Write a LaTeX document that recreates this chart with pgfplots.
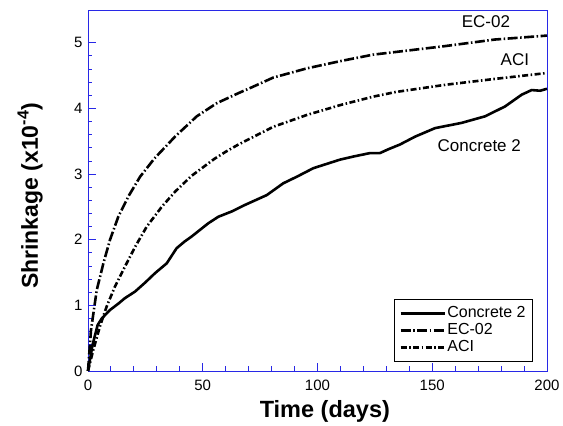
\documentclass[border=0pt]{standalone}
\usepackage{pgfplots}
\pgfplotsset{compat=1.18}
\usepackage{fontspec}
\setmainfont{Liberation Sans}
\usetikzlibrary{calc}

\definecolor{frameblue}{RGB}{40,40,230}

\pgfplotstableread{
t s
0 0
1 0.2
2 0.4
4.2 0.70
6 0.80
9.6 0.93
13 1.02
16.1 1.11
20.5 1.21
25 1.35
29.2 1.49
34.3 1.64
38.6 1.87
42 1.97
45.2 2.05
52.4 2.25
56.8 2.35
62.6 2.43
68.4 2.53
77.9 2.68
85.1 2.86
91 2.96
98.2 3.09
109.8 3.22
116 3.27
122.9 3.32
127.2 3.32
131 3.38
135.9 3.45
142.5 3.57
151.2 3.70
162.8 3.78
173.0 3.88
181.7 4.03
189.0 4.21
193.3 4.28
197 4.27
200 4.30
}\concrete

\pgfplotstableread{
t s
0 0
1.3 0.62
3.8 1.23
6.7 1.64
9.6 2.00
13.2 2.35
17.6 2.66
22.7 2.96
29 3.24
37.9 3.57
47.4 3.88
56.1 4.08
66 4.24
70.6 4.31
80.7 4.47
95.3 4.61
109.8 4.72
124.3 4.82
134 4.86
155.6 4.95
177.3 5.05
200 5.11
}\ecmodel

\pgfplotstableread{
t s
0 0
2.3 0.32
5.2 0.68
8.1 0.98
11.8 1.29
16.1 1.59
20.5 1.89
25.6 2.20
32.1 2.50
37.9 2.73
45 2.97
50 3.10
55 3.23
60 3.34
65 3.44
70 3.53
80.7 3.72
95.3 3.90
109.8 4.05
124.3 4.18
134 4.25
155.6 4.36
177.3 4.45
200 4.54
}\acimodel

\begin{document}
\begin{tikzpicture}
\begin{axis}[
  scale only axis,
  width=459pt, height=361pt,
  xmin=0, xmax=200, ymin=0, ymax=5.5,
  xtick={0,50,...,200}, ytick={0,1,...,5},
  minor x tick num=4, minor y tick num=4,
  xtick pos=left, ytick pos=left,
  tick align=inside,
  major tick length=8pt, minor tick length=4.5pt,
  axis line style={frameblue, line width=0.9pt},
  every tick/.style={frameblue, line width=0.9pt},
  ticklabel style={font=\fontsize{15}{17}\selectfont},
  xticklabel style={yshift=-6pt},
  yticklabel style={xshift=-2pt},
  /pgf/number format/assume math mode=true,
  xlabel={\bfseries Time (days)},
  ylabel={\bfseries Shrinkage (x10\textsuperscript{-4})},
  xlabel style={font=\fontsize{23.5}{26}\selectfont,
    at={(axis description cs:0.516,-0.111)}, anchor=center},
  ylabel style={font=\fontsize{23}{26}\selectfont,
    at={(axis description cs:-0.126,0.485)}, anchor=center},
  clip=false,
  legend cell align=left,
  legend style={at={(rel axis cs:0.969,0.025)}, anchor=south east,
    draw=black, line width=1.2pt, font=\fontsize{16}{18}\selectfont,
    inner xsep=5pt, inner ysep=7pt, row sep=3pt,
    nodes={inner xsep=1.5pt, inner ysep=0pt, text height=11pt, text depth=3pt}},
  legend image code/.code={\draw[#1] (0cm,0cm) -- (1.55cm,0cm);},
]
\addplot[black, line width=2.6pt] table[x=t,y=s] {\concrete};
\addlegendentry{Concrete 2}
\addplot[black, line width=2.6pt, dash pattern=on 10pt off 2.5pt on 1.5pt off 2.5pt] table[x=t,y=s] {\ecmodel};
\addlegendentry{EC-02}
\addplot[black, line width=2.6pt, dash pattern=on 6pt off 2.5pt on 1.5pt off 2.5pt] table[x=t,y=s] {\acimodel};
\addlegendentry{ACI}

\node[font=\fontsize{17}{19}\selectfont] at (axis cs:173.4,5.32) {EC-02};
\node[font=\fontsize{17}{19}\selectfont] at (axis cs:186,4.74) {ACI};
\node[font=\fontsize{17}{19}\selectfont] at (axis cs:170.5,3.44) {Concrete 2};
\end{axis}
\pgfresetboundingbox
\path ($(current axis.south west)+(-88pt,-55pt)$) rectangle ($(current axis.north east)+(16pt,10pt)$);
\end{tikzpicture}
\end{document}
